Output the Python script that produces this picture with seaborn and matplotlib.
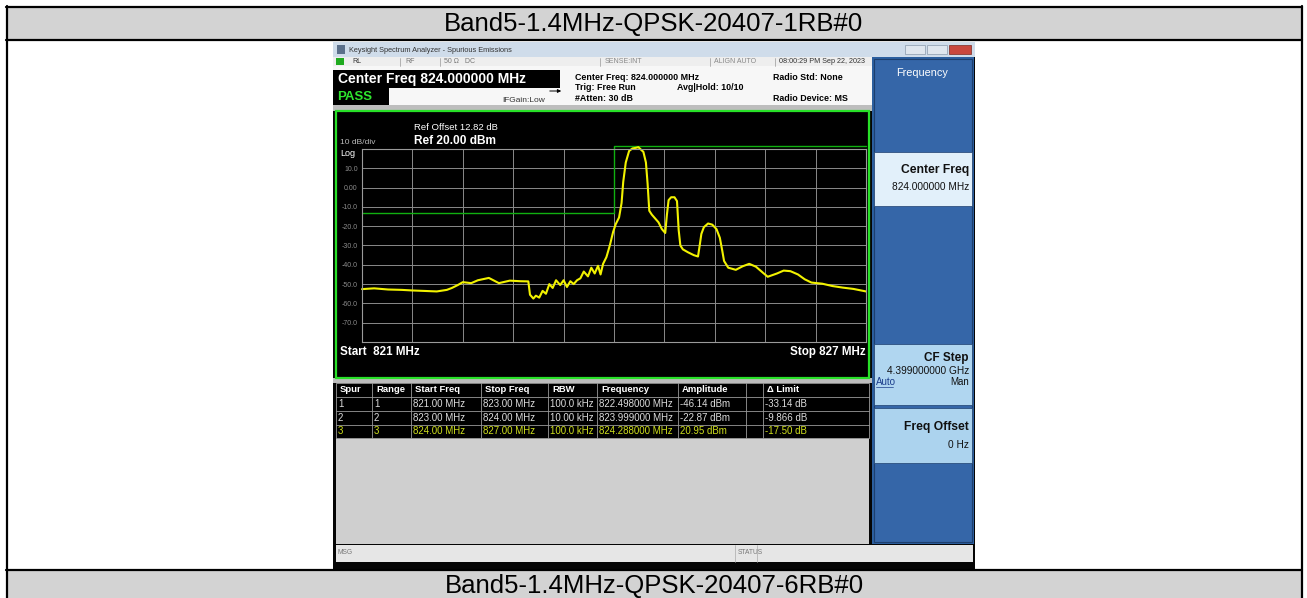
import numpy as np
import pandas as pd
import matplotlib
matplotlib.use('Agg')
import matplotlib.pyplot as plt
from matplotlib.patches import Rectangle
import seaborn as sns

# ---- data ----
freq_mhz = [821.000, 821.145, 821.310, 821.475, 821.600, 821.720, 821.890, 822.010,
            822.070, 822.140, 822.200, 822.300, 822.380, 822.510, 822.630, 822.760,
            822.880, 822.980, 823.000, 823.040, 823.070, 823.110, 823.150, 823.190,
            823.230, 823.270, 823.310, 823.360, 823.400, 823.440, 823.480, 823.520,
            823.560, 823.600, 823.640, 823.690, 823.730, 823.770, 823.810, 823.840,
            823.870, 823.910, 823.950, 823.990, 824.020, 824.060, 824.090, 824.110,
            824.140, 824.180, 824.220, 824.260, 824.290, 824.350, 824.380, 824.400,
            824.420, 824.450, 824.490, 824.530, 824.570, 824.610, 824.630, 824.650,
            824.680, 824.720, 824.750, 824.770, 824.790, 824.820, 824.880, 824.950,
            825.000, 825.020, 825.040, 825.070, 825.120, 825.170, 825.220, 825.260,
            825.290, 825.310, 825.360, 825.450, 825.530, 825.610, 825.690, 825.770,
            825.830, 825.940, 826.020, 826.100, 826.190, 826.270, 826.350, 826.480,
            826.600, 826.720, 826.850, 827.000]
ampl_dbm = [-52.6, -52.2, -52.8, -53.0, -53.3, -53.5, -53.8, -53.0,
            -52.0, -50.5, -49.0, -49.5, -48.0, -46.8, -49.5, -48.2,
            -48.5, -48.6, -55.5, -57.5, -56.0, -57.0, -53.5, -55.0,
            -50.0, -52.0, -48.0, -50.5, -48.0, -51.5, -48.5, -50.0,
            -48.0, -47.0, -43.5, -46.0, -41.5, -44.5, -40.5, -45.0,
            -39.5, -36.0, -30.0, -22.9, -19.0, -15.5, -8.0, 3.0,
            13.0, 19.0, 20.3, 20.6, 20.95, 18.5, 13.0, 2.0,
            -12.0, -14.0, -16.0, -18.0, -21.5, -23.5, -14.0, -6.5,
            -5.0, -5.0, -7.0, -22.0, -30.0, -32.0, -33.5, -35.0,
            -35.7, -30.0, -24.0, -20.5, -18.6, -19.2, -21.5, -26.0,
            -33.0, -38.0, -41.5, -42.6, -40.8, -39.5, -41.0, -44.0,
            -46.2, -44.5, -43.0, -43.3, -45.0, -47.5, -49.2, -49.8,
            -51.0, -51.8, -52.5, -53.8]

limit_start = [821.0, 823.0, 824.0]
limit_stop = [823.0, 824.0, 827.0]
limit_dbm = [-13.0, -13.0, 38.45]

y_grid = [20, 10, 0, -10, -20, -30, -40, -50, -60, -70, -80]
y_grid_labels = ['', '10.0', '0.00', '-10.0', '-20.0', '-30.0', '-40.0', '-50.0', '-60.0', '-70.0', '']

tbl_header = ['Spur', 'Range', 'Start Freq', 'Stop Freq', 'RBW', 'Frequency', 'Amplitude', '', '\u0394 Limit']
spur = ['1', '2', '3']
rng = ['1', '2', '3']
start_freq = ['821.00 MHz', '823.00 MHz', '824.00 MHz']
stop_freq = ['823.00 MHz', '824.00 MHz', '827.00 MHz']
rbw = ['100.0 kHz', '10.00 kHz', '100.0 kHz']
spur_freq = ['822.498000 MHz', '823.999000 MHz', '824.288000 MHz']
amplitude = ['-46.14 dBm', '-22.87 dBm', '20.95 dBm']
delta_limit = ['-33.14 dB', '-9.866 dB', '-17.50 dB']

title_top = 'Band5-1.4MHz-QPSK-20407-1RB#0'
title_bottom = 'Band5-1.4MHz-QPSK-20407-6RB#0'

W, H = 1307, 598
sns.set_theme(style='white')
plt.rcParams['font.family'] = ['Liberation Sans', 'DejaVu Sans']

fig = plt.figure(figsize=(W / 100, H / 100), dpi=100)
bg = fig.add_axes([0, 0, 1, 1])
bg.set_xlim(0, W)
bg.set_ylim(H, 0)
bg.axis('off')


def box(x0, y0, x1, y1, fc, ec='none', lw=0, z=1):
    bg.add_patch(Rectangle((x0, y0), x1 - x0, y1 - y0, fc=fc, ec=ec, lw=lw, zorder=z))


def txt(x, y, s, size, color='black', weight='normal', ha='left', z=5):
    bg.text(x, y, s, fontsize=size, color=color, fontweight=weight, ha=ha, va='center', zorder=z)


# document table
box(7, 7, 1301, 39.5, '#d3d3d3')
box(7, 570, 1301, 598, '#d3d3d3')
for y in (6.5, 39.5, 570):
    bg.plot([6, 1302], [y, y], color='black', lw=1.6, zorder=3)
for x in (6.5, 1301.5):
    bg.plot([x, x], [6, 598], color='black', lw=1.6, zorder=3)
txt(654, 23.5, title_top, 18.5, ha='center')
txt(654, 586, title_bottom, 18.5, ha='center')

# analyzer screenshot frame
box(333, 42, 975, 569, '#050505')
box(333, 42, 975, 57, '#cfdcea')
txt(349, 50, 'Keysight Spectrum Analyzer - Spurious Emissions', 5.3, '#333333')
box(337, 45, 345, 54, '#5a6f8a')
box(905, 45, 925, 54, '#dfe6ee', ec='#8899aa', lw=0.5)
box(927, 45, 947, 54, '#dfe6ee', ec='#8899aa', lw=0.5)
box(949, 45, 971, 54, '#c9473d', ec='#7a2a22', lw=0.5)

# status row and info area
box(333, 57, 872, 66, '#eeeeee')
box(336, 58, 344, 65, '#1faa1f')
for x in (400, 440, 600, 710, 775):
    bg.plot([x, x], [57.5, 65.5], color='#999999', lw=0.5, zorder=2)
txt(352, 61.5, 'RL', 5, '#333333')
txt(405, 61.5, 'RF', 5, '#777777')
txt(444, 61.5, '50 \u03a9   DC', 5, '#777777')
txt(605, 61.5, 'SENSE:INT', 5, '#888888')
txt(714, 61.5, 'ALIGN AUTO', 5, '#888888')
txt(779, 61.5, '08:00:29 PM Sep 22, 2023', 5.2, '#333333')
box(333, 66, 872, 108, '#f7f7f7')
box(333, 70, 560, 88, '#000000', z=2)
txt(338, 79, 'Center Freq 824.000000 MHz', 10, 'white', 'bold', z=6)
box(333, 88, 389, 105, '#000000', z=2)
txt(337, 97, 'PASS', 9.5, '#2ee62e', 'bold', z=6)
txt(575, 77, 'Center Freq: 824.000000 MHz', 6.4, 'black', 'bold')
txt(575, 88, 'Trig: Free Run', 6.4, 'black', 'bold')
txt(575, 98.5, '#Atten: 30 dB', 6.4, 'black', 'bold')
txt(677, 88, 'Avg|Hold: 10/10', 6.4, 'black', 'bold')
txt(773, 77, 'Radio Std: None', 6.4, 'black', 'bold')
txt(773, 98.5, 'Radio Device: MS', 6.4, 'black', 'bold')
txt(502, 101, 'IFGain:Low', 6, '#333333')
bg.annotate('', xy=(564, 91), xytext=(547, 91),
            arrowprops=dict(arrowstyle='-|>', lw=0.7, color='black', mutation_scale=5), zorder=6)
box(333, 105, 872, 111, '#bdbdbd')

# graph window
box(336, 111, 869, 378, '#000000', ec='#28e028', lw=1.6, z=2)
txt(414, 128, 'Ref Offset 12.82 dB', 6.8, 'white', z=6)
txt(414, 141, 'Ref 20.00 dBm', 8.6, 'white', 'bold', z=6)
txt(340, 143, '10 dB/div', 6, '#bbbbbb', z=6)
txt(340, 153, 'Log', 6.5, 'white', z=6)
txt(340, 352, 'Start  821 MHz', 8.4, 'white', 'bold', z=6)
txt(866, 352, 'Stop 827 MHz', 8.4, 'white', 'bold', ha='right', z=6)

# spur table
box(333, 378, 872, 383, '#bdbdbd')
box(336, 383, 869, 438, '#000000', ec='#9a9a9a', lw=0.6, z=2)
box(336, 438, 869, 544, '#cfcfcf')
col_x = [336, 372, 411, 481, 548, 597, 678, 746, 763, 869]
row_y = [383, 397, 411, 424.5, 438]
for x in col_x[1:-1]:
    bg.plot([x, x], [383, 438], color='#9a9a9a', lw=0.6, zorder=3)
for y in row_y[1:-1]:
    bg.plot([336, 869], [y, y], color='#9a9a9a', lw=0.6, zorder=3)
for i, h in enumerate(tbl_header):
    txt(col_x[i] + 4, 390, h, 6.8, 'white', 'bold')
columns = [spur, rng, start_freq, stop_freq, rbw, spur_freq, amplitude, ['', '', ''], delta_limit]
row_colors = ['#dcdcdc', '#dcdcdc', '#cfe01c']
for r in range(3):
    for c, col in enumerate(columns):
        txt(col_x[c] + 2, (row_y[r + 1] + row_y[r + 2]) / 2, col[r], 7, row_colors[r])

# softkey panel
box(872, 57, 974, 544, '#2c5f9f')
box(874, 59, 972, 542, '#3566a8', ec='#1d3f6e', lw=0.8)
txt(922, 73, 'Frequency', 7.8, 'white', ha='center')
box(874, 152, 972, 206, '#e2f0fa', ec='#1d3f6e', lw=0.5)
txt(969, 170, 'Center Freq', 8.7, '#111111', 'bold', ha='right')
txt(969, 187, '824.000000 MHz', 7.3, '#111111', ha='right')
box(874, 344, 972, 405, '#b0d6f0', ec='#1d3f6e', lw=0.5)
txt(969, 358, 'CF Step', 8.5, '#111111', 'bold', ha='right')
txt(969, 371, '4.399000000 GHz', 7.3, '#111111', ha='right')
txt(876, 382, 'Auto', 7, '#1a3c8a')
bg.plot([876, 893], [387, 387], color='#1a3c8a', lw=0.5, zorder=5)
txt(969, 382, 'Man', 7, '#111111', ha='right')
box(874, 408, 972, 463, '#acd3ee', ec='#1d3f6e', lw=0.5)
txt(969, 427, 'Freq Offset', 8.7, '#111111', 'bold', ha='right')
txt(969, 445, '0 Hz', 7.3, '#111111', ha='right')

# bottom status bar
box(336, 545, 973, 562, '#e6e6e6')
bg.plot([735, 735], [545, 562], color='#aaaaaa', lw=0.5, zorder=2)
bg.plot([757, 757], [545, 562], color='#aaaaaa', lw=0.5, zorder=2)
txt(338, 553, 'MSG', 4.8, '#777777')
txt(738, 553, 'STATUS', 4.8, '#777777')

# spectrum trace
x0, x1, y_top, y_bot = 362, 866, 149, 342
ax = fig.add_axes([x0 / W, 1 - y_bot / H, (x1 - x0) / W, (y_bot - y_top) / H])
ax.set_facecolor('black')
df = pd.DataFrame({'freq': freq_mhz, 'amp': ampl_dbm})
sns.lineplot(data=df, x='freq', y='amp', ax=ax, color='#f2f200', lw=1.5,
             estimator=None, sort=False, legend=False)
for ln in ax.lines:
    ln.set_clip_on(False)

# limit line, clipped to the top of the display like the analyzer does
disp_top = 21.6
lim_x, lim_y = [], []
for a, b, v in zip(limit_start, limit_stop, limit_dbm):
    lim_x += [a, b]
    lim_y += [min(v, disp_top)] * 2
ax.plot(lim_x, lim_y, color='#10b010', lw=1.0, clip_on=False, zorder=1)

ax.set_xlim(limit_start[0], limit_stop[-1])
ax.set_ylim(y_grid[-1], y_grid[0])
ax.set_xticks(np.linspace(limit_start[0], limit_stop[-1], 11))
ax.set_yticks(y_grid)
ax.set_yticklabels(y_grid_labels)
ax.set_xticklabels([])
ax.tick_params(length=0, labelsize=5, colors='#8c8c8c', pad=3)
ax.grid(True, color='#8a8a8a', lw=0.7)
ax.set_xlabel('')
ax.set_ylabel('')
for s in ax.spines.values():
    s.set_color('#9a9a9a')
    s.set_linewidth(0.8)

fig.savefig('out.png', dpi=100)
